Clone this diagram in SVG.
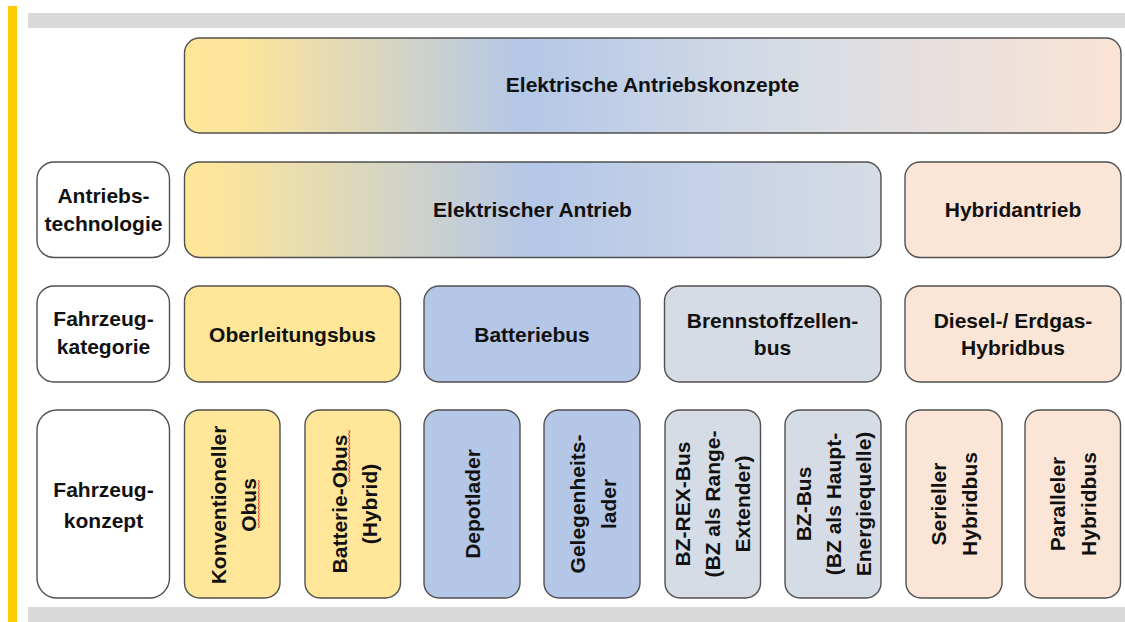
<svg xmlns="http://www.w3.org/2000/svg" width="1125" height="622" viewBox="0 0 1125 622">
<defs>
<linearGradient id="gTop" x1="0" y1="0" x2="1" y2="0">
<stop offset="0" stop-color="#FFE699"/>
<stop offset="0.06" stop-color="#FDE59A"/>
<stop offset="0.36" stop-color="#B4C7E7"/>
<stop offset="0.64" stop-color="#D6DCE5"/>
<stop offset="1" stop-color="#FBE4D5"/>
</linearGradient>
<linearGradient id="gEl" x1="0" y1="0" x2="1" y2="0">
<stop offset="0" stop-color="#FFE699"/>
<stop offset="0.04" stop-color="#FDE59A"/>
<stop offset="0.5" stop-color="#B4C7E7"/>
<stop offset="1" stop-color="#D6DCE5"/>
</linearGradient>
</defs>
<style>
.b{stroke:#505050;stroke-width:1.4}
.w{fill:#FFFFFF}
.y{fill:#FFE699}
.bl{fill:#B4C7E7}
.g{fill:#D6DCE5}
.p{fill:#FBE5D6}
text{font-family:"Liberation Sans",Arial,sans-serif;font-weight:bold;font-size:21px;fill:#111;text-anchor:middle}
.sq{fill:none;stroke:#E03030;stroke-width:1}
</style>
<rect x="0" y="0" width="1125" height="622" fill="#FFFFFF"/>
<rect x="8" y="6" width="9" height="616" fill="#FFCC00"/>
<rect x="28" y="13" width="1097" height="15" fill="#D9D9D9"/>
<rect x="28" y="607" width="1097" height="15" fill="#D9D9D9"/>

<g id="n-top"><rect class="b" x="184.5" y="38" width="936.5" height="95" rx="15" fill="url(#gTop)"/><text x="652.5" y="92">Elektrische Antriebskonzepte</text></g>

<g id="l-antrieb"><rect class="b w" x="37" y="162" width="132.5" height="95.5" rx="17"/><text x="103.5" y="203">Antriebs-</text><text x="103.5" y="231">technologie</text></g>
<g id="n-elektrisch"><rect class="b" x="184.5" y="162" width="696.5" height="95.5" rx="15" fill="url(#gEl)"/><text x="532.5" y="217">Elektrischer Antrieb</text></g>
<g id="n-hybrid"><rect class="b p" x="905" y="162" width="216" height="95.5" rx="15"/><text x="1013" y="217">Hybridantrieb</text></g>

<g id="l-kategorie"><rect class="b w" x="37" y="286" width="132.5" height="96" rx="17"/><text x="103.5" y="326">Fahrzeug-</text><text x="103.5" y="354">kategorie</text></g>
<g id="n-obus"><rect class="b y" x="184.5" y="286" width="216" height="96" rx="15"/><text x="292.5" y="342">Oberleitungsbus</text></g>
<g id="n-batteriebus"><rect class="b bl" x="424" y="286" width="216" height="96" rx="15"/><text x="532" y="342">Batteriebus</text></g>
<g id="n-bz"><rect class="b g" x="664.5" y="286" width="216.5" height="96" rx="15"/><text x="772.5" y="328">Brennstoffzellen-</text><text x="772.5" y="355">bus</text></g>
<g id="n-diesel"><rect class="b p" x="905" y="286" width="216" height="96" rx="15"/><text x="1013" y="328">Diesel-/ Erdgas-</text><text x="1013" y="355">Hybridbus</text></g>

<g id="l-konzept"><rect class="b w" x="37" y="410" width="132.5" height="188" rx="20"/><text x="103.5" y="497">Fahrzeug-</text><text x="103.5" y="528">konzept</text></g>

<g id="n-konv"><rect class="b y" x="184.5" y="410" width="95.5" height="188" rx="15"/><g transform="translate(232,505) rotate(-90)"><text x="0" y="-6">Konventioneller</text><text x="0" y="24">Obus</text></g><path class="sq" d="M258,528 l1.5,-2 l-1.5,-2 l1.5,-2 l-1.5,-2 l1.5,-2 l-1.5,-2 l1.5,-2 l-1.5,-2 l1.5,-2 l-1.5,-2 l1.5,-2 l-1.5,-2 l1.5,-2 l-1.5,-2 l1.5,-2 l-1.5,-2 l1.5,-2 l-1.5,-2 l1.5,-2 l-1.5,-2 l1.5,-2 l-1.5,-2 l1.5,-2 l-1.5,-2"/></g>
<g id="n-batobus"><rect class="b y" x="305" y="410" width="95.5" height="188" rx="15"/><g transform="translate(352.5,504) rotate(-90)"><text x="0" y="-6">Batterie-Obus</text><text x="0" y="24">(Hybrid)</text></g><path class="sq" d="M348.5,482 l1.5,-2 l-1.5,-2 l1.5,-2 l-1.5,-2 l1.5,-2 l-1.5,-2 l1.5,-2 l-1.5,-2 l1.5,-2 l-1.5,-2 l1.5,-2 l-1.5,-2 l1.5,-2 l-1.5,-2 l1.5,-2 l-1.5,-2 l1.5,-2 l-1.5,-2 l1.5,-2 l-1.5,-2 l1.5,-2 l-1.5,-2 l1.5,-2 l-1.5,-2 l1.5,-2 l-1.5,-2"/></g>

<g id="n-depot"><rect class="b bl" x="424" y="410" width="96" height="188" rx="15"/><g transform="translate(472,504) rotate(-90)"><text x="0" y="8">Depotlader</text></g></g>
<g id="n-gelegen"><rect class="b bl" x="544" y="410" width="96" height="188" rx="15"/><g transform="translate(592,504) rotate(-90)"><text x="0" y="-7">Gelegenheits-</text><text x="0" y="24">lader</text></g></g>

<g id="n-bzrex"><rect class="b g" x="665" y="410" width="95.5" height="188" rx="15"/><g transform="translate(712.5,504) rotate(-90)"><text x="0" y="-22.5">BZ-REX-Bus</text><text x="0" y="7.5">(BZ als Range-</text><text x="0" y="37.5">Extender)</text></g></g>
<g id="n-bzbus"><rect class="b g" x="785" y="410" width="96" height="188" rx="15"/><g transform="translate(833,504) rotate(-90)"><text x="0" y="-22.5">BZ-Bus</text><text x="0" y="7.5">(BZ als Haupt-</text><text x="0" y="37.5">Energiequelle)</text></g></g>

<g id="n-seriell"><rect class="b p" x="906" y="410" width="96" height="188" rx="15"/><g transform="translate(954,504) rotate(-90)"><text x="0" y="-8">Serieller</text><text x="0" y="23">Hybridbus</text></g></g>
<g id="n-parallel"><rect class="b p" x="1025" y="410" width="95.5" height="188" rx="15"/><g transform="translate(1072.5,504) rotate(-90)"><text x="0" y="-8">Paralleler</text><text x="0" y="23">Hybridbus</text></g></g>

<g id="connectors"></g>
</svg>
